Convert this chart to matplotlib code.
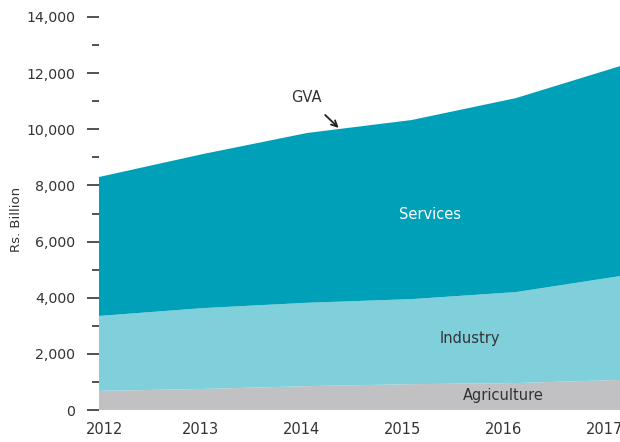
import matplotlib.pyplot as plt
from matplotlib.ticker import MultipleLocator, FuncFormatter

years = ['2012', '2013', '2014', '2015', '2016', '2017']
agriculture = [680, 750, 850, 920, 960, 1070]
industry_top = [3350, 3630, 3820, 3950, 4200, 4770]
gva = [8300, 9120, 9870, 10330, 11110, 12250]

industry = [t - a for t, a in zip(industry_top, agriculture)]
services = [g - t for g, t in zip(gva, industry_top)]

x = list(range(len(years)))
# labels sit a bit off the data points in the original
label_pos = [0.05, 0.97, 1.94, 2.91, 3.88, 4.85]

plt.rcParams['font.family'] = ['DejaVu Sans']
txt = '#333333'

fig = plt.figure(figsize=(6.2, 4.42), dpi=100)
ax = fig.add_axes([99 / 620, 1 - 410 / 442, 1 - 99 / 620, (410 - 17) / 442])

ax.stackplot(x, agriculture, industry, services,
             colors=['#c1c1c3', '#80d0dc', '#00a1b8'], linewidth=0)

ax.set_xlim(0, 5)
ax.set_ylim(0, 14000)

for s in ax.spines.values():
    s.set_visible(False)

ax.yaxis.set_major_locator(MultipleLocator(2000))
ax.yaxis.set_minor_locator(MultipleLocator(1000))
ax.yaxis.set_major_formatter(FuncFormatter(lambda v, p: f'{int(v):,}'))
ax.tick_params(axis='y', which='major', length=8.6, width=1.2, color=txt,
               labelsize=10.2, labelcolor=txt, pad=8.6)
ax.tick_params(axis='y', which='minor', length=5, width=1.2, color=txt)

ax.set_xticks(label_pos)
ax.set_xticklabels(years)
ax.tick_params(axis='x', length=0, labelsize=10.5, labelcolor=txt, pad=9)
for lbl in ax.get_xticklabels():
    lbl.set_clip_on(False)

ax.set_ylabel('Rs. Billion', fontsize=9.5, color=txt)
ax.yaxis.set_label_coords(-0.145, 0.485)

ax.text(3.18, 6950, 'Services', color='white', fontsize=10.5, ha='center', va='center')
ax.text(3.56, 2530, 'Industry', color=txt, fontsize=10.5, ha='center', va='center')
ax.text(3.88, 500, 'Agriculture', color=txt, fontsize=10.5, ha='center', va='center')
ax.annotate('GVA', xy=(2.3, 10050), xytext=(1.99, 11150), color=txt, fontsize=10.5,
            ha='center', va='center',
            arrowprops=dict(arrowstyle='->', color='#222222', lw=1.3,
                            shrinkA=8, shrinkB=0))

fig.savefig('out.png', dpi=100)
